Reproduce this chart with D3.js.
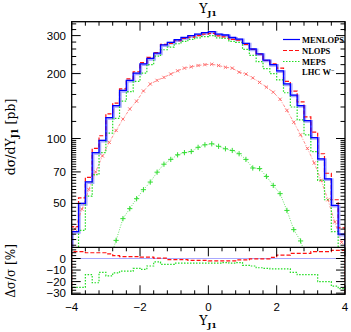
<!DOCTYPE html>
<html>
<head>
<meta charset="utf-8">
<script src="https://cdn.jsdelivr.net/npm/d3@7"></script>
<style>
  body { margin: 0; background: #fff; }
  text { fill: #000; }
</style>
</head>
<body>
<div id="chart"></div>
<script>
// bins of width 0.2 from -4 to 4
const binWidth = 0.2;
const binLow = d3.range(40).map(i => -4 + i * binWidth);

const menlops = [37, 50, 63, 86, 98, 125, 142, 167, 186, 201, 222, 235, 249, 272, 279, 287, 294, 300, 305, 310,
  313, 305, 302, 294, 289, 276, 260, 247, 231, 220, 206, 179, 159, 142, 121, 101, 80.5, 65, 49, 36];
const nlops = [39, 53, 66, 90, 103, 130, 146, 170, 189, 204, 225, 238, 250, 273, 276, 284, 291, 295, 300, 305,
  307, 299, 296, 288, 285.5, 273, 259, 246, 230, 222, 212, 184, 166, 148, 126, 107, 85, 69, 52, 38.5];
const meps = [28, 37.5, 54, 68, 86, 106, 124, 149, 165, 184, 201, 220, 241, 258, 265, 275, 282, 288, 293, 297,
  300, 293, 291, 282, 279, 259, 243, 227, 211, 200, 187, 163, 140, 122, 104, 87, 64, 52, 37, 26.5];

// component curves drawn with markers (value at bin centre)
const nlopsCross = [38, 47, 58, 70, 83, 96, 109, 123, 137, 149, 166, 179, 186, 192, 199, 206, 212, 215, 218, 220,
  221, 218, 214, 212, 203, 199, 191, 182, 173, 164, 152, 135, 119, 104, 90, 77, 64, 52, 41, 33];
const mepsPlusBins = d3.range(5, 35);
const mepsPlus = [27, 33.7, 42.5, 47.3, 52.6, 57.9, 62.8, 69.8, 76, 80, 84, 86, 87, 91, 93.5, 94.5, 92, 89.6, 88, 85,
  80, 73, 72.5, 66.7, 60.6, 55.5, 46.4, 37.8, 33.5, 27];

// ratio to MENLOPS in %
const ratioNlops = [6, 6, 5, 5, 5, 4, 2.5, 1.7, 1.7, 1.7, 1.2, 1.2, 0.3, 0.3, -1, -1, -1, -1.7, -1.7, -1.7,
  -2, -2, -2, -2, -1.2, -1.2, -0.3, -0.3, -0.3, 0.9, 3, 3, 4.5, 4.5, 4.5, 6, 6, 6, 7, 7];
const ratioMeps = [-25, -25, -14, -21, -12, -15, -12.5, -11, -11, -8.5, -9.5, -6.5, -3, -5, -5, -4, -4, -4, -4, -4,
  -4, -4, -3.5, -4, -3.5, -6, -6.5, -8, -8.5, -9, -9, -9, -12, -14, -14, -14, -20, -20, -24, -26];

const xTicks = [-4, -2, 0, 2, 4];
const yTicks = [50, 70, 100, 200, 300];
const rTicks = [0, -10, -20, -30];
const legendNames = ['MENLOPS', 'NLOPS', 'MEPS'];

const WIDTH = 351;
const HEIGHT = 332;
const LEFT = 71.7;
const RIGHT = 345;
const TOP = 21.7;
const SPLIT = 247.3;
const BOTTOM = 294.3;

const BLUE = '#0000ff';
const LIGHTBLUE = '#a8a8ff';
const RED = '#ff1010';
const GREEN = '#22dd22';

const svg = d3.select('#chart').append('svg')
  .attr('width', WIDTH)
  .attr('height', HEIGHT)
  .style('font-family', 'Liberation Sans, sans-serif');

const x = d3.scaleLinear().domain([-4, 4]).range([LEFT, RIGHT]);
const y = d3.scaleLog().domain([31.3, 348]).range([SPLIT, TOP]);
const r = d3.scaleLinear().domain([-31, 9.7]).range([BOTTOM, SPLIT]);

const defs = svg.append('defs');
defs.append('clipPath').attr('id', 'clipMain').append('rect')
  .attr('x', LEFT).attr('y', TOP).attr('width', RIGHT - LEFT).attr('height', SPLIT - TOP);
defs.append('clipPath').attr('id', 'clipRatio').append('rect')
  .attr('x', LEFT).attr('y', SPLIT).attr('width', RIGHT - LEFT).attr('height', BOTTOM - SPLIT);

// step outline for a histogram, starting and ending below the frame
const stepPoints = (vals, floor) => {
  const pts = [[-4, floor]];
  vals.forEach((v, i) => {
    pts.push([binLow[i], v]);
    pts.push([binLow[i] + binWidth, v]);
  });
  pts.push([4, floor]);
  return pts;
};

const mainLine = d3.line().x(d => x(d[0])).y(d => y(d[1]));
const ratioLine = d3.line().x(d => x(d[0])).y(d => r(d[1]));

const main = svg.append('g').attr('clip-path', 'url(#clipMain)');

main.append('path')
  .attr('d', mainLine(stepPoints(menlops, 10)))
  .attr('fill', 'none').attr('stroke', LIGHTBLUE).attr('stroke-width', 2.8)
  .attr('transform', 'translate(0.8,0.8)');

// component curves
const crossPts = nlopsCross.map((v, i) => [binLow[i] + binWidth / 2, v]);
main.append('path')
  .attr('d', mainLine(crossPts))
  .attr('fill', 'none').attr('stroke', '#ff7070').attr('stroke-width', 0.8)
  .attr('stroke-dasharray', '3,1.5,1,1.5');
main.selectAll('.cross')
  .data(crossPts)
  .enter()
  .append('path')
  .attr('class', 'cross')
  .attr('d', d => {
    const cx = x(d[0]), cy = y(d[1]), s = 1.6;
    return `M${cx - s},${cy - s}L${cx + s},${cy + s}M${cx - s},${cy + s}L${cx + s},${cy - s}`;
  })
  .attr('stroke', '#ff6060').attr('stroke-width', 0.9);

const plusPts = mepsPlus.map((v, i) => [binLow[mepsPlusBins[i]] + binWidth / 2, v]);
main.append('path')
  .attr('d', mainLine(plusPts))
  .attr('fill', 'none').attr('stroke', '#55e055').attr('stroke-width', 0.9)
  .attr('stroke-dasharray', '1,1.5');
main.selectAll('.plus')
  .data(plusPts)
  .enter()
  .append('path')
  .attr('class', 'plus')
  .attr('d', d => {
    const cx = x(d[0]), cy = y(d[1]), s = 2.6;
    return `M${cx - s},${cy}L${cx + s},${cy}M${cx},${cy - s}L${cx},${cy + s}`;
  })
  .attr('stroke', '#33dd33').attr('stroke-width', 1);

main.append('path')
  .attr('d', mainLine(stepPoints(meps, 10)))
  .attr('fill', 'none').attr('stroke', GREEN).attr('stroke-width', 1.2)
  .attr('stroke-dasharray', '1.5,1.5');
main.append('path')
  .attr('d', mainLine(stepPoints(nlops, 10)))
  .attr('fill', 'none').attr('stroke', RED).attr('stroke-width', 1.2)
  .attr('stroke-dasharray', '4,2');
main.append('path')
  .attr('d', mainLine(stepPoints(menlops, 10)))
  .attr('fill', 'none').attr('stroke', BLUE).attr('stroke-width', 1.3);

// ratio panel
const ratio = svg.append('g').attr('clip-path', 'url(#clipRatio)');
ratio.append('path')
  .attr('d', ratioLine([[-4, 0], [4, 0]]))
  .attr('stroke', LIGHTBLUE).attr('stroke-width', 1.2);
ratio.append('path')
  .attr('d', ratioLine(stepPoints(ratioMeps, -60)))
  .attr('fill', 'none').attr('stroke', GREEN).attr('stroke-width', 1.2)
  .attr('stroke-dasharray', '1.5,1.5');
ratio.append('path')
  .attr('d', ratioLine(stepPoints(ratioNlops, -60)))
  .attr('fill', 'none').attr('stroke', RED).attr('stroke-width', 1.2)
  .attr('stroke-dasharray', '4,2');

// frames
const frame = svg.append('g').attr('fill', 'none').attr('stroke', '#000').attr('stroke-width', 1.3);
frame.append('rect').attr('x', LEFT).attr('y', TOP).attr('width', RIGHT - LEFT).attr('height', BOTTOM - TOP);
frame.append('line').attr('x1', LEFT).attr('x2', RIGHT).attr('y1', SPLIT).attr('y2', SPLIT);

// ticks
const ticks = svg.append('g').attr('stroke', '#000').attr('stroke-width', 1);
const xMinor = d3.range(-4, 4.001, 0.4).map(v => Math.round(v * 10) / 10);
const xTickLen = v => (xTicks.includes(v) ? 9 : 4);
[TOP, SPLIT].forEach(y0 => {
  ticks.selectAll(null).data(xMinor).enter().append('line')
    .attr('x1', d => x(d)).attr('x2', d => x(d))
    .attr('y1', y0).attr('y2', d => y0 + xTickLen(d));
});
ticks.selectAll(null).data(xMinor).enter().append('line')
  .attr('x1', d => x(d)).attr('x2', d => x(d))
  .attr('y1', BOTTOM).attr('y2', d => BOTTOM - xTickLen(d));

const yMinor = d3.range(32, 100, 2).concat(d3.range(100, 341, 20));
const yTickLen = v => (yTicks.includes(v) ? 9 : 4.5);
ticks.selectAll(null).data(yMinor).enter().append('line')
  .attr('x1', LEFT).attr('x2', d => LEFT + yTickLen(d))
  .attr('y1', d => y(d)).attr('y2', d => y(d));
ticks.selectAll(null).data(yMinor).enter().append('line')
  .attr('x1', RIGHT).attr('x2', d => RIGHT - yTickLen(d))
  .attr('y1', d => y(d)).attr('y2', d => y(d));

const rMinor = d3.range(-30, 9, 2.5);
const rTickLen = v => (rTicks.includes(v) ? 9 : 4.5);
ticks.selectAll(null).data(rMinor).enter().append('line')
  .attr('x1', LEFT).attr('x2', d => LEFT + rTickLen(d))
  .attr('y1', d => r(d)).attr('y2', d => r(d));
ticks.selectAll(null).data(rMinor).enter().append('line')
  .attr('x1', RIGHT).attr('x2', d => RIGHT - rTickLen(d))
  .attr('y1', d => r(d)).attr('y2', d => r(d));

// tick labels
const fmt = v => (v < 0 ? '\u2212' + Math.abs(v) : String(v));
const labels = svg.append('g').style('font-size', '11.5px');
labels.selectAll(null).data(xTicks).enter().append('text')
  .attr('x', d => x(d)).attr('y', 311)
  .attr('text-anchor', 'middle')
  .text(fmt);
labels.selectAll(null).data(yTicks).enter().append('text')
  .attr('x', 66).attr('y', d => y(d) + 4)
  .attr('text-anchor', 'end')
  .text(fmt);
labels.selectAll(null).data(rTicks).enter().append('text')
  .attr('x', 66).attr('y', d => r(d) + 4)
  .attr('text-anchor', 'end')
  .text(fmt);

// titles
const serif = 'DejaVu Serif, serif';
const title = svg.append('text')
  .attr('x', 208).attr('y', 13)
  .attr('text-anchor', 'middle')
  .style('font-family', serif).style('font-size', '12.5px');
title.append('tspan').text('Y');
title.append('tspan').attr('dy', 3).style('font-size', '8px').style('font-weight', 'bold').text('J1');

const xLabel = svg.append('text')
  .attr('x', 208).attr('y', 325)
  .attr('text-anchor', 'middle')
  .style('font-family', serif).style('font-size', '12.5px');
xLabel.append('tspan').text('Y');
xLabel.append('tspan').attr('dy', 3).style('font-size', '8px').style('font-weight', 'bold').text('J1');

const yLabel = svg.append('text')
  .attr('transform', 'translate(15,137) rotate(-90)')
  .attr('text-anchor', 'middle')
  .style('font-family', serif).style('font-size', '12.5px');
yLabel.append('tspan').text('d\u03c3/dY');
yLabel.append('tspan').attr('dy', 3).style('font-size', '8.5px').style('font-weight', 'bold').text('J1');
yLabel.append('tspan').attr('dy', -3).text(' [pb]');

svg.append('text')
  .attr('transform', 'translate(15,271) rotate(-90)')
  .attr('text-anchor', 'middle')
  .style('font-family', serif).style('font-size', '12px')
  .text('\u0394\u03c3/\u03c3 [%]');

// legend
const legend = svg.append('g')
  .style('font-family', 'Liberation Serif, serif')
  .style('font-size', '8.5px')
  .style('font-weight', 'bold');
const legendStyles = [
  { stroke: BLUE, dash: null },
  { stroke: RED, dash: '4,2' },
  { stroke: GREEN, dash: '1.5,1.5' }
];
legendNames.forEach((name, i) => {
  const ly = 39.5 + i * 11;
  legend.append('line')
    .attr('x1', 283).attr('x2', 300).attr('y1', ly).attr('y2', ly)
    .attr('stroke', legendStyles[i].stroke).attr('stroke-width', 1.2)
    .attr('stroke-dasharray', legendStyles[i].dash);
  legend.append('text').attr('x', 302).attr('y', ly + 3).text(name);
});
const lhc = legend.append('text').attr('x', 302).attr('y', 75);
lhc.append('tspan').text('LHC W');
lhc.append('tspan').attr('dy', -3).style('font-size', '6px').text('\u2212');
</script>
</body>
</html>
